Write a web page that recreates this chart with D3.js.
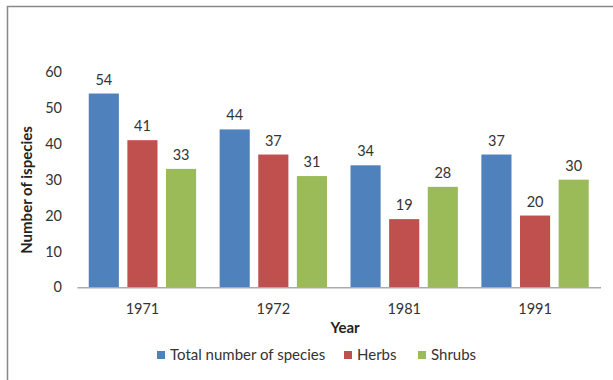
<!DOCTYPE html>
<html>
<head>
<meta charset="utf-8">
<script src="https://cdn.jsdelivr.net/npm/d3@7"></script>
<style>
  html, body { margin: 0; padding: 0; background: #fff; }
  svg { display: block; font-family: Lato, "Open Sans", sans-serif; }
</style>
</head>
<body>
<svg id="chart" width="613" height="380"></svg>
<script>
// Species counts by survey year
const years = ["1971", "1972", "1981", "1991"];
const seriesNames = ["Total number of species", "Herbs", "Shrubs"];
const totalSpecies = [54, 44, 34, 37];
const herbs = [41, 37, 19, 20];
const shrubs = [33, 31, 28, 30];
const yTicks = [0, 10, 20, 30, 40, 50, 60];
const colors = ["#4F81BD", "#C0504D", "#9BBB59"];

const seriesValues = [totalSpecies, herbs, shrubs];

const svg = d3.select("#chart");

// Outer frame (top and left edges visible)
svg.append("path")
  .attr("d", "M7.5,400 V6.5 H620")
  .attr("fill", "none")
  .attr("stroke", "#888")
  .attr("stroke-width", 1.5);

const x0 = d3.scaleBand().domain(years).range([77, 600.5]).padding(0);
const x1 = d3.scaleBand().domain(seriesNames)
  .range([11.75, x0.bandwidth() - 11.75]).paddingInner(0.22).paddingOuter(0);
const y = d3.scaleLinear().domain([0, 60]).range([287.3, 72]);

// Y tick labels (no axis line)
const yAxis = d3.axisLeft(y).tickValues(yTicks).tickSize(0).tickPadding(15);
const gy = svg.append("g").attr("transform", "translate(77,0)").call(yAxis);
gy.select(".domain").remove();
gy.selectAll("text").attr("font-size", 14.5).attr("fill", "#333")
  .attr("font-family", "Lato, 'Open Sans', sans-serif");

// Bars
const groups = svg.append("g").selectAll("g")
  .data(years)
  .join("g")
  .attr("transform", d => `translate(${x0(d)},0)`);

groups.selectAll("rect")
  .data((d, i) => seriesNames.map((s, k) => ({ s, k, v: seriesValues[k][i] })))
  .join("rect")
  .attr("x", d => x1(d.s))
  .attr("width", x1.bandwidth())
  .attr("y", d => y(d.v))
  .attr("height", d => y(0) - y(d.v))
  .attr("fill", d => colors[d.k]);

// Value labels
groups.selectAll("text.val")
  .data((d, i) => seriesNames.map((s, k) => ({ s, k, v: seriesValues[k][i] })))
  .join("text")
  .attr("class", "val")
  .attr("x", d => x1(d.s) + x1.bandwidth() / 2)
  .attr("y", d => y(d.v) - 9)
  .attr("text-anchor", "middle")
  .attr("font-size", 14.5)
  .attr("fill", "#333")
  .text(d => d.v);

// X axis baseline and labels
const xAxis = d3.axisBottom(x0).tickSize(0).tickPadding(16);
const gx = svg.append("g").attr("transform", `translate(0,${y(0)})`).call(xAxis);
gx.select(".domain").attr("stroke", "#aaa").attr("stroke-width", 1.5);
gx.selectAll("text").attr("font-size", 14.5).attr("fill", "#333")
  .attr("font-family", "Lato, 'Open Sans', sans-serif");

// Axis titles
svg.append("text")
  .attr("transform", "translate(32,190) rotate(-90)")
  .attr("text-anchor", "middle")
  .attr("font-size", 15)
  .attr("font-weight", "bold")
  .attr("fill", "#222")
  .text("Number of ispecies");

svg.append("text")
  .attr("x", 345)
  .attr("y", 333)
  .attr("text-anchor", "middle")
  .attr("font-size", 15)
  .attr("font-weight", "bold")
  .attr("fill", "#222")
  .text("Year");

// Legend
const legendX = [157, 344, 418];
const legend = svg.append("g").selectAll("g")
  .data(seriesNames)
  .join("g")
  .attr("transform", (d, i) => `translate(${legendX[i]},355)`);
legend.append("rect")
  .attr("x", 0).attr("y", -4)
  .attr("width", 8).attr("height", 8)
  .attr("fill", (d, i) => colors[i]);
legend.append("text")
  .attr("x", 13).attr("y", 5)
  .attr("font-size", 15)
  .attr("fill", "#333")
  .text(d => d);
</script>
</body>
</html>
